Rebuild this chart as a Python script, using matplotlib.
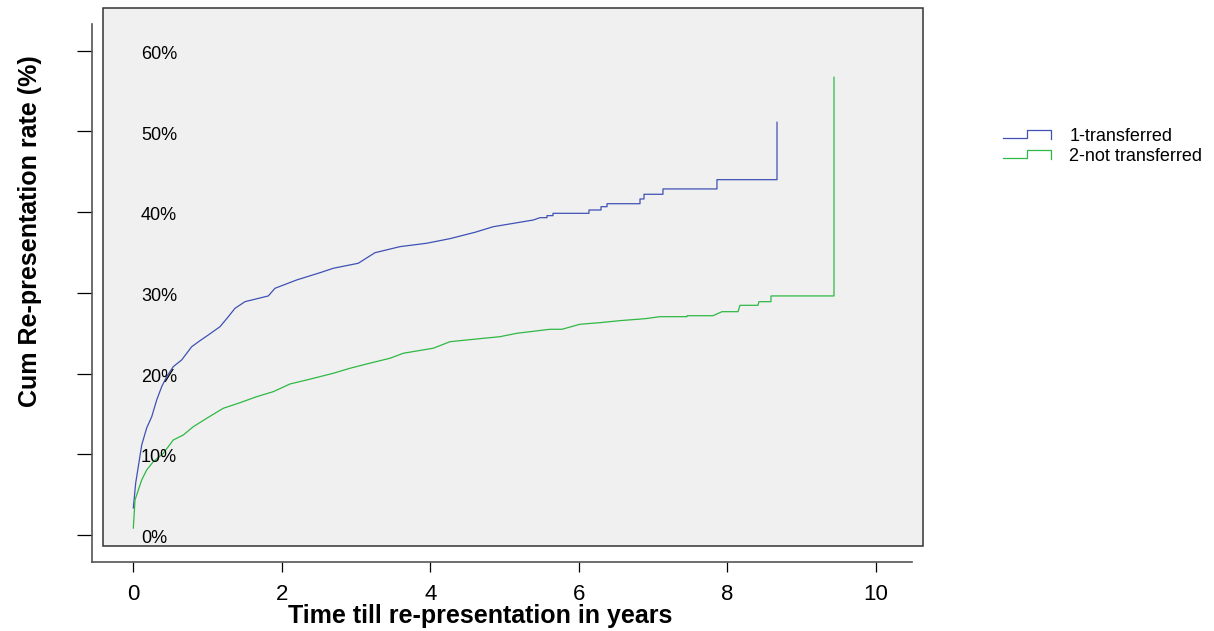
import matplotlib
matplotlib.use("Agg")
import matplotlib.pyplot as plt
from matplotlib.patches import Rectangle
from matplotlib.lines import Line2D
from matplotlib.legend_handler import HandlerBase

plt.rcParams['font.family'] = ['Liberation Sans', 'DejaVu Sans']

# cumulative re-presentation (years, %)
blue_t = [0.004, 0.036, 0.071, 0.117, 0.184, 0.252, 0.319, 0.386, 0.454, 0.542,
          0.655, 0.790, 0.902, 1.013, 1.171, 1.283, 1.373, 1.507, 1.821, 1.911,
          2.203, 2.517, 2.696, 3.032, 3.257, 3.594, 3.953, 4.266, 4.603, 4.849,
          5.388, 5.478, 5.572, 5.572, 5.653, 5.653, 6.137, 6.137, 6.299, 6.299,
          6.380, 6.380, 6.824, 6.824, 6.878, 6.878, 7.133, 7.133, 7.860, 7.860,
          8.668, 8.668]
blue_v = [3.35, 6.44, 8.46, 11.15, 13.26, 14.66, 16.73, 18.38, 19.62, 20.86,
          21.69, 23.33, 24.08, 24.78, 25.81, 27.05, 28.09, 28.91, 29.62, 30.57,
          31.60, 32.50, 33.05, 33.67, 34.98, 35.73, 36.15, 36.72, 37.51, 38.20,
          39.03, 39.32, 39.32, 39.57, 39.57, 39.86, 39.86, 40.27, 40.27, 40.68,
          40.68, 41.05, 41.05, 41.64, 41.64, 42.22, 42.22, 42.88, 42.88, 44.03,
          44.03, 51.14]

green_t = [0.004, 0.027, 0.117, 0.184, 0.273, 0.408, 0.542, 0.677, 0.812, 0.992,
           1.215, 1.440, 1.665, 1.888, 2.113, 2.338, 2.517, 2.696, 2.921, 3.145,
           3.459, 3.638, 4.042, 4.266, 4.491, 4.715, 4.939, 5.164, 5.388, 5.612,
           5.774, 6.016, 6.285, 6.555, 6.891, 7.093, 7.456, 7.456, 7.806, 7.927,
           8.143, 8.170, 8.412, 8.425, 8.587, 8.587, 9.435, 9.435]
green_v = [0.85, 4.34, 6.82, 8.05, 9.08, 10.12, 11.77, 12.39, 13.42, 14.46,
           15.70, 16.39, 17.14, 17.76, 18.71, 19.21, 19.62, 20.04, 20.66, 21.19,
           21.90, 22.52, 23.14, 23.95, 24.16, 24.37, 24.57, 24.99, 25.24, 25.49,
           25.49, 26.11, 26.31, 26.56, 26.80, 27.05, 27.05, 27.17, 27.17, 27.67,
           27.67, 28.46, 28.46, 28.91, 28.91, 29.62, 29.62, 56.72]

series_names = ['1-transferred', '2-not transferred']
series_colors = ['#3f51b5', '#2fb844']

x_ticks = [0, 2, 4, 6, 8, 10]
y_ticks = [0, 10, 20, 30, 40, 50, 60]
y_labels = ['0%', '10%', '20%', '30%', '40%', '50%', '60%']

W, H = 1214, 631


class StepHandler(HandlerBase):
    # little step glyph like the R survival legend
    def create_artists(self, legend, orig_handle, xdescent, ydescent,
                       width, height, fontsize, trans):
        xs = [0, 0.5, 0.5, 1, 1]
        ys = [0.25, 0.25, 0.9, 0.9, 0.17]
        ln = Line2D([x * width - xdescent for x in xs],
                    [y * height - ydescent for y in ys],
                    color=orig_handle.get_color(), lw=0.9)
        ln.set_transform(trans)
        return [ln]


fig = plt.figure(figsize=(W / 100, H / 100), dpi=100)
ax = fig.add_axes([92 / W, 1 - 562 / H, (912 - 92) / W, (562 - 24) / H])
ax.set_facecolor('none')

# grey panel, shifted against the axis box like in the original
panel = Rectangle((103 / W, 1 - 546 / H), (923 - 103) / W, (546 - 8) / H,
                  transform=fig.transFigure, facecolor='#f0f0f0',
                  edgecolor='#333333', lw=1.1, zorder=-1)
fig.patches.append(panel)

l1, = ax.plot(blue_t, blue_v, color=series_colors[0], lw=0.9)
l2, = ax.plot(green_t, green_v, color=series_colors[1], lw=0.9)

ax.set_xlim(-0.552, 10.485)
ax.set_ylim(-3.35, 63.32)

for s in ['top', 'right']:
    ax.spines[s].set_visible(False)
for s in ['left', 'bottom']:
    ax.spines[s].set_color('#555555')
    ax.spines[s].set_linewidth(1.2)

ax.set_xticks(x_ticks)
ax.set_xticklabels([str(x) for x in x_ticks], fontsize=16)
ax.set_yticks(y_ticks)
ax.set_yticklabels([])
ax.tick_params(axis='y', direction='out', length=10.8, width=0.9)
ax.tick_params(axis='x', direction='out', length=7.2, width=0.9, pad=8.5)

for v, lab in zip(y_ticks, y_labels):
    ax.text(0.108, v - 0.45, lab, ha='left', va='center', fontsize=13)

fig.text(480 / W, 1 - 616 / H, 'Time till re-presentation in years',
         ha='center', va='center', fontsize=18, fontweight='bold')
fig.text(30 / W, 1 - 231 / H, 'Cum Re-presentation rate (%)', rotation=90,
         ha='center', va='center', fontsize=18, fontweight='bold')

fig.legend([l1, l2], series_names, handler_map={Line2D: StepHandler()},
           loc='upper left', bbox_to_anchor=(1003 / W, 1 - 128 / H),
           frameon=False, fontsize=13, handlelength=2.67, handletextpad=1.0,
           labelspacing=0.17, borderpad=0, borderaxespad=0)

fig.savefig('out.png', dpi=100)
